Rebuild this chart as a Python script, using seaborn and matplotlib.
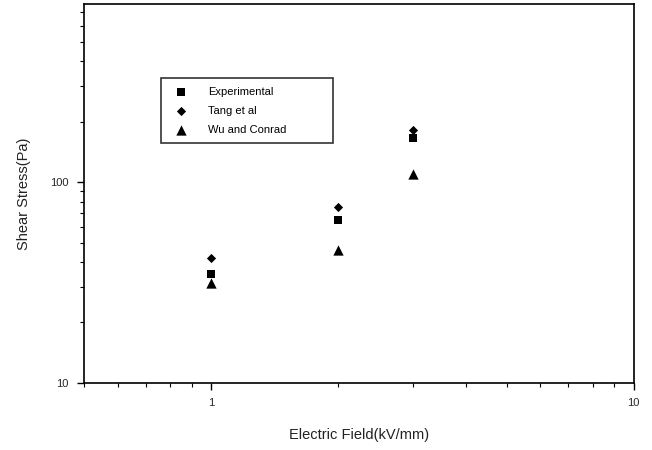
import numpy as np
import pandas as pd
import matplotlib
matplotlib.use("Agg")
import matplotlib.pyplot as plt
import seaborn as sns
from matplotlib.ticker import LogLocator, NullFormatter, FixedLocator, FixedFormatter

# data
field = [1, 2, 3]
experimental = [35, 65, 165]
tang = [42, 75, 181]
wu_conrad = [31.5, 46, 110]
series_names = ["Experimental", "Tang et al", "Wu and Conrad"]

sns.set_style("ticks")
plt.rcParams['font.family'] = ['Liberation Sans', 'DejaVu Sans']

fig = plt.figure(figsize=(6.52, 4.5), dpi=100)
ax = fig.add_axes([0.129, 0.149, 0.843, 0.842])

# marker, size for each series
styles = [("s", 30), ("D", 22), ("^", 55)]
for name, vals, (mk, sz) in zip(series_names, [experimental, tang, wu_conrad], styles):
    sns.scatterplot(x=field, y=vals, marker=mk, s=sz, color="black",
                    linewidth=0, label=name, ax=ax)

ax.set_xscale("log")
ax.set_yscale("log")
ax.set_xlim(0.5, 10)
ax.set_ylim(10, 770)

ax.xaxis.set_major_locator(FixedLocator([1, 10]))
ax.xaxis.set_major_formatter(FixedFormatter(["1", "10"]))
ax.xaxis.set_minor_locator(LogLocator(base=10, subs=np.arange(2, 10)))
ax.xaxis.set_minor_formatter(NullFormatter())
ax.yaxis.set_major_locator(FixedLocator([10, 100]))
ax.yaxis.set_major_formatter(FixedFormatter(["10", "100"]))
ax.yaxis.set_minor_locator(LogLocator(base=10, subs=np.arange(2, 10)))
ax.yaxis.set_minor_formatter(NullFormatter())

ax.tick_params(axis="both", which="major", direction="out", length=5, width=1,
               labelsize=8, color="black", pad=6)
ax.tick_params(axis="both", which="minor", direction="out", length=3, width=0.8,
               color="black")
for sp in ax.spines.values():
    sp.set_color("black")
    sp.set_linewidth(1.2)

ax.set_xlabel("Electric Field(kV/mm)", fontsize=10.5, labelpad=14, color="#222222")
ax.set_ylabel("Shear Stress(Pa)", fontsize=10.5, labelpad=14, color="#222222")

leg = ax.legend(loc="upper left", bbox_to_anchor=(0.14, 0.628, 0.313, 0.177),
                mode="expand", fontsize=8,
                frameon=True, fancybox=False, edgecolor="black",
                handletextpad=1.4, borderpad=0.8, labelspacing=0.8,
                borderaxespad=0)
leg.get_frame().set_linewidth(1.2)
for t in leg.get_texts():
    t.set_color("black")

fig.savefig("out.png", dpi=100)
